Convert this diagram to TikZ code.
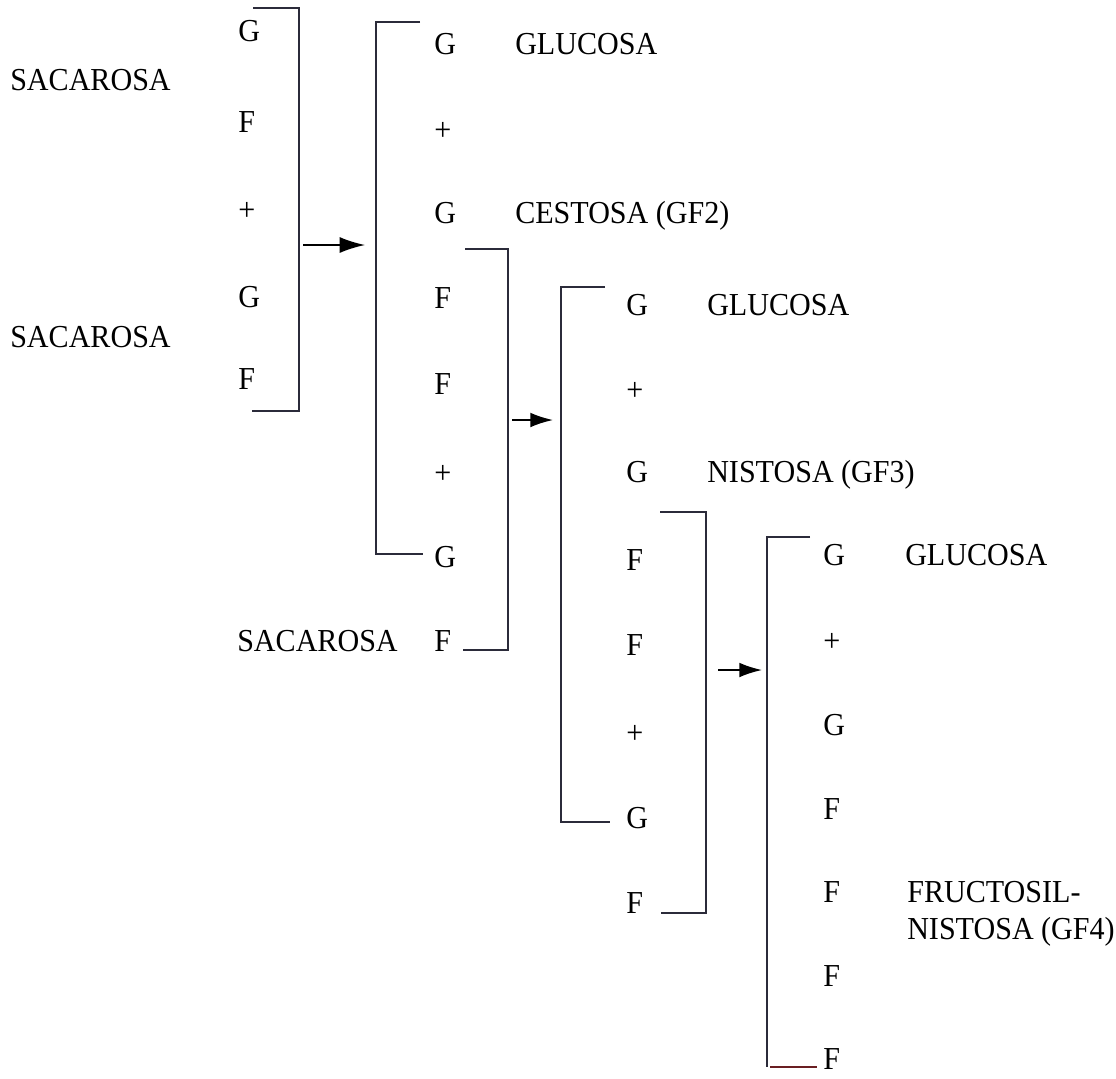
\documentclass[tikz,border=0pt]{standalone}
\usepackage{fontspec}
\setmainfont{Liberation Serif}
\usetikzlibrary{arrows.meta}
\definecolor{linec}{HTML}{2B2B3A}
\definecolor{redl}{HTML}{6A1E22}
\newcommand{\nrw}[1]{\scalebox{0.94}[1]{#1}}
\begin{document}
\begin{tikzpicture}[x=0.75pt,y=-0.75pt,
  lbl/.style={inner sep=0pt, text height=15.9pt, text depth=0pt, anchor=west,
              font=\fontsize{24}{28}\selectfont},
  brk/.style={draw=linec, line width=1.2pt},
  arr/.style={draw=black, line width=1.2pt, -{Latex[length=17pt,width=11pt]}}]
\useasboundingbox (0,0) rectangle (1116,1078);

% column 1
\node[lbl] (c1a) at (238,31)  {\nrw{G}};
\node[lbl] (c1b) at (238,122) {\nrw{F}};
\node[lbl] (c1c) at (238,210) {\nrw{+}};
\node[lbl] (c1d) at (238,297) {\nrw{G}};
\node[lbl] (c1e) at (238,379) {\nrw{F}};
\node[lbl] (sac1) at (10,80)  {\nrw{SACAROSA}};
\node[lbl] (sac2) at (10,337) {\nrw{SACAROSA}};

% column 2
\node[lbl] (c2a) at (434,44)  {\nrw{G}};
\node[lbl] (c2b) at (434,130) {\nrw{+}};
\node[lbl] (c2c) at (434,213) {\nrw{G}};
\node[lbl] (c2d) at (434,298) {\nrw{F}};
\node[lbl] (c2e) at (434,384) {\nrw{F}};
\node[lbl] (c2f) at (434,473) {\nrw{+}};
\node[lbl] (c2g) at (434,557) {\nrw{G}};
\node[lbl] (c2h) at (434,641) {\nrw{F}};
\node[lbl] (glu1) at (515,44)  {\nrw{GLUCOSA}};
\node[lbl] (ces)  at (515,213) {\nrw{CESTOSA (GF2)}};
\node[lbl] (sac3) at (237,641) {\nrw{SACAROSA}};

% column 3
\node[lbl] (c3a) at (626,305) {\nrw{G}};
\node[lbl] (c3b) at (626,390) {\nrw{+}};
\node[lbl] (c3c) at (626,472) {\nrw{G}};
\node[lbl] (c3d) at (626,560) {\nrw{F}};
\node[lbl] (c3e) at (626,645) {\nrw{F}};
\node[lbl] (c3f) at (626,733) {\nrw{+}};
\node[lbl] (c3g) at (626,818) {\nrw{G}};
\node[lbl] (c3h) at (626,903) {\nrw{F}};
\node[lbl] (glu2) at (707,305) {\nrw{GLUCOSA}};
\node[lbl] (nis)  at (707,472) {\nrw{NISTOSA (GF3)}};

% column 4
\node[lbl] (c4a) at (823,555)  {\nrw{G}};
\node[lbl] (c4b) at (823,641)  {\nrw{+}};
\node[lbl] (c4c) at (823,725)  {\nrw{G}};
\node[lbl] (c4d) at (823,809)  {\nrw{F}};
\node[lbl] (c4e) at (823,892)  {\nrw{F}};
\node[lbl] (c4f) at (823,976)  {\nrw{F}};
\node[lbl] (c4g) at (823,1059) {\nrw{F}};
\node[lbl] (glu3) at (905,555) {\nrw{GLUCOSA}};
\node[lbl] (fru1) at (907,892) {\nrw{FRUCTOSIL-}};
\node[lbl] (fru2) at (907,929) {\nrw{NISTOSA (GF4)}};

% brackets
\draw[brk] (253,8) -- (299,8) -- (299,411) -- (252,411);
\draw[brk] (420,22) -- (376,22) -- (376,554) -- (423,554);
\draw[brk] (465,249) -- (508,249) -- (508,650) -- (463,650);
\draw[brk] (605,287) -- (561,287) -- (561,822) -- (610,822);
\draw[brk] (660,512) -- (706,512) -- (706,913) -- (661,913);
\draw[brk] (810,537) -- (767,537) -- (767,1067);
\draw[draw=redl, line width=1.2pt] (770,1067) -- (817,1067);

% arrows
\coordinate (a1s) at (303,245); \coordinate (a1e) at (365,245);
\coordinate (a2s) at (512,420); \coordinate (a2e) at (553,420);
\coordinate (a3s) at (718,670); \coordinate (a3e) at (762,670);
\draw[arr, -{Latex[length=19pt,width=12pt]}] (a1s) -- (a1e);
\draw[arr] (a2s) -- (a2e);
\draw[arr] (a3s) -- (a3e);
\end{tikzpicture}
\end{document}
